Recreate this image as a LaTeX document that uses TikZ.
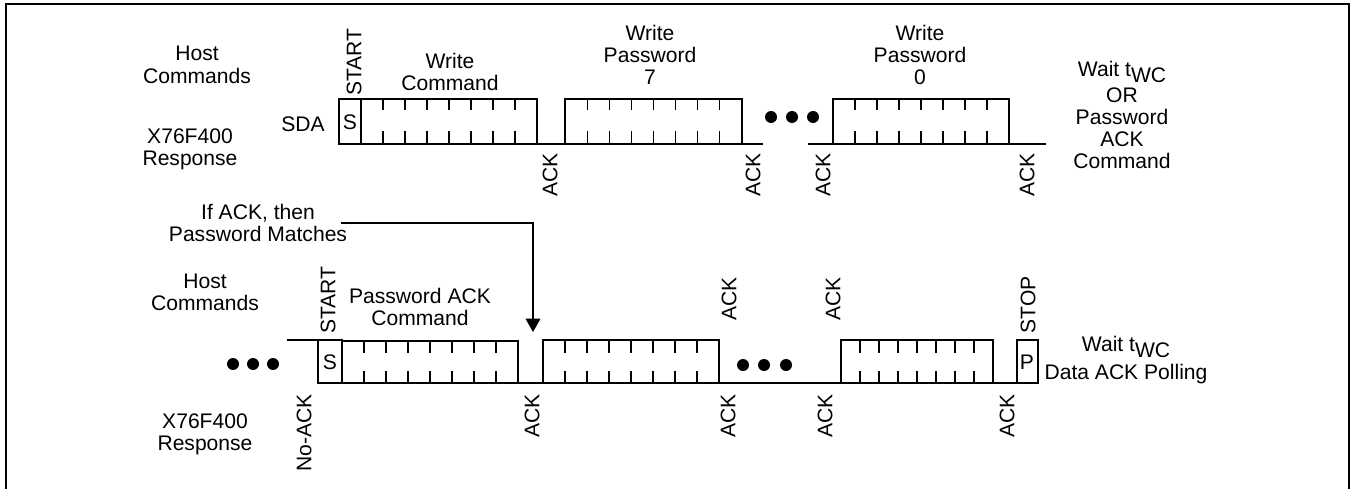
\documentclass[tikz,border=0pt]{standalone}
\usepackage{fontspec}
\setmainfont{Liberation Sans}
\usetikzlibrary{arrows.meta}

\begin{document}
\begin{tikzpicture}[x=0.02cm,y=-0.02cm]
		\tikzstyle{frame}=[line width=0.8pt]
		\tikzstyle{signal}=[line width=1.4pt]
		\tikzstyle{tick}=[line width=0.6pt]
		\tikzstyle{txt}=[inner sep=0pt,align=center,font=\fontsize{12}{12.6}\selectfont]
		\tikzstyle{vtxt}=[txt,rotate=90]
		\tikzstyle{dot}=[circle,fill=black,inner sep=0pt,minimum size=0.24cm]
		\tikzstyle{hint}=[line width=0.6pt,-{Triangle[width=0.3cm,length=0.27cm]}]
		
		\useasboundingbox (0,0) rectangle (1351,489);
		\draw [frame] (6,489) -- (6,4) -- (1349,4) -- (1349,489);
		
		% Premiere sequence (Write Password)
		\node[txt] (hostA) at (197,65) {Host\\[0.8pt]Commands};
		\node[txt] (respA) at (190,149) {X76F400\\Response};
		\node[txt] (sda) at (303,124) {SDA};
		\node[vtxt] (startA) at (354,62) {START};
		\node[txt] (wcmd) at (450,72) {Write\\Command};
		\node[txt] (wpw7) at (650,55) {Write\\Password\\7};
		\node[txt] (wpw0) at (920,55) {Write\\Password\\0};
		\node[txt] (waitA) at (1122,115) {Wait t\smash{\raisebox{-0.5ex}{WC}}\\[2pt]OR\\Password\\ACK\\Command};
		
		\draw [signal] (339,99) rectangle (361,144);
		\node[txt] (sA) at (350,122) {S};
		\draw [signal] (361,99) rectangle (537,144);
		\draw [signal] (537,144) -- (565,144);
		\draw [signal] (565,99) rectangle (742,144);
		\draw [signal] (742,144) -- (763,144);
		\draw [signal] (808,144) -- (833,144);
		\draw [signal] (833,99) rectangle (1009,144);
		\draw [signal] (1009,144) -- (1046,144);
		\foreach \a/\b in {361/537,565/742,833/1009}
			\foreach \i in {1,...,7} {
				\draw [tick] ({\a+\i*(\b-\a)/8},99) -- ++(0,11);
				\draw [tick] ({\a+\i*(\b-\a)/8},144) -- ++(0,-13);
			}
		
		\node[dot] (dotA1) at (771,117) {};
		\node[dot] (dotA2) at (792,117) {};
		\node[dot] (dotA3) at (813,117) {};
		
		\node[vtxt] (ackA1) at (550,175) {ACK};
		\node[vtxt] (ackA2) at (753,175) {ACK};
		\node[vtxt] (ackA3) at (823,175) {ACK};
		\node[vtxt] (ackA4) at (1027,175) {ACK};
		
		% Seconde sequence (Password ACK)
		\node[txt] (ifack) at (258,223) {If ACK, then\\Password Matches};
		\node[txt] (hostB) at (205,292) {Host\\Commands};
		\node[txt] (respB) at (205,434) {X76F400\\Response};
		\node[vtxt] (startB) at (328,300) {START};
		\node[vtxt] (noack) at (304,433) {No-ACK};
		\node[txt] (pwcmd) at (420,307) {Password ACK\\Command};
		\node[vtxt] (stop) at (1028,305) {STOP};
		\node[txt] (waitB) at (1126,360) {Wait t\smash{\raisebox{-0.5ex}{WC}}\\[3pt]Data ACK Polling};
		
		\node[dot] (dotB1) at (233,364) {};
		\node[dot] (dotB2) at (253,364) {};
		\node[dot] (dotB3) at (273,364) {};
		\node[dot] (dotC1) at (743,365) {};
		\node[dot] (dotC2) at (764,365) {};
		\node[dot] (dotC3) at (786,365) {};
		
		\draw [signal] (287,340) -- (318,340);
		\draw [signal] (318,340) rectangle (342,383);
		\node[txt] (sB) at (330,362) {S};
		\draw [signal] (342,341) rectangle (518,383);
		\draw [signal] (518,383) -- (543,383);
		\draw [signal] (543,340) rectangle (719,383);
		\draw [signal] (719,383) -- (841,383);
		\draw [signal] (841,340) rectangle (993,383);
		\draw [signal] (993,383) -- (1017,383);
		\draw [signal] (1017,340) rectangle (1038,383);
		\node[txt] (pB) at (1027,362) {P};
		\foreach \a/\b in {342/518,543/719,841/993}
			\foreach \i in {1,...,7} {
				\draw [tick] ({\a+\i*(\b-\a)/8},341) -- ++(0,12);
				\draw [tick] ({\a+\i*(\b-\a)/8},383) -- ++(0,-12);
			}
		
		\node[vtxt] (ackB1) at (729,299) {ACK};
		\node[vtxt] (ackB2) at (833,299) {ACK};
		\node[vtxt] (ackB3) at (532,416) {ACK};
		\node[vtxt] (ackB4) at (728,416) {ACK};
		\node[vtxt] (ackB5) at (825,416) {ACK};
		\node[vtxt] (ackB6) at (1007,416) {ACK};
		
		\coordinate (gap) at (533,332);
		\draw [hint] (ifack.east) ++(-6,0) -| (gap);
\end{tikzpicture}
\end{document}
